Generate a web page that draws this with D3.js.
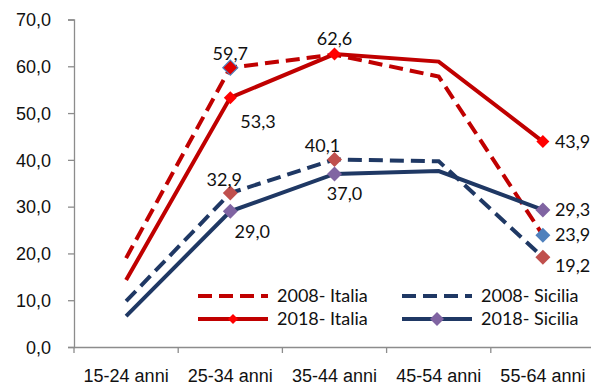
<!DOCTYPE html>
<html lang="en">
<head>
  <meta charset="utf-8">
  <title>Tasso di occupazione per età</title>
  <style>
    body { margin: 0; background: #fff; }
    svg { display: block; font-family: Lato, "Open Sans", sans-serif; }
    .axis path, .axis line { stroke: #8c8c8c; stroke-width: 1.3; }
    .axis text { fill: #111; font-size: 18px; }
  </style>
</head>
<body>
<div id="chart"></div>
<script src="https://cdn.jsdelivr.net/npm/d3@7"></script>
<script>

  ////////////////////////////////////////////////// DATA

  var categories = ["15-24 anni", "25-34 anni", "35-44 anni", "45-54 anni", "55-64 anni"];

  var italia2008  = [19.0, 59.7, 62.5, 57.8, 23.9];
  var italia2018  = [14.3, 53.3, 62.6, 61.0, 43.9];
  var sicilia2008 = [9.8, 32.9, 40.1, 39.7, 19.2];
  var sicilia2018 = [6.6, 29.0, 37.0, 37.6, 29.3];

  var seriesNames = ["2008- Italia", "2008- Sicilia", "2018- Italia", "2018- Sicilia"];

  var yTicks = [0, 10, 20, 30, 40, 50, 60, 70];

  // which points carry a marker + value label
  var labelled = [1, 2, 4];

  ////////////////////////////////////////////////// SETUP

  var width = 591, height = 387;

  var svg = d3.select("#chart").append("svg")
    .attr("width", width)
    .attr("height", height);

  var x = d3.scaleBand().domain(categories).range([74, 595]);
  var y = d3.scaleLinear().domain([0, 70]).range([347, 19.5]);

  var fmt = function(v) { return d3.format(".1f")(v).replace(".", ","); };

  // axes
  svg.append("g")
    .attr("class", "axis")
    .attr("transform", "translate(74,0)")
    .call(d3.axisLeft(y).tickValues(yTicks).tickFormat(fmt).tickSizeInner(6).tickSizeOuter(6).tickPadding(17))
    .call(function(g) { g.selectAll("text").attr("dy", "0.35em"); });

  svg.append("g")
    .attr("class", "axis")
    .attr("transform", "translate(0,347)")
    .call(d3.axisBottom(x).tickSizeInner(0).tickSizeOuter(0).tickPadding(22))
    .call(function(g) {
      // category boundary ticks
      var bounds = categories.map(function(c) { return x(c); });
      g.selectAll(".bound").data(bounds).enter().append("line")
        .attr("class", "bound")
        .attr("x1", function(d) { return d; }).attr("x2", function(d) { return d; })
        .attr("y1", 0).attr("y2", 6);
    });

  var cx = function(i) { return x(categories[i]) + x.bandwidth() / 2; };

  var line = d3.line()
    .x(function(d, i) { return cx(i); })
    .y(function(d) { return y(d); });

  var red = "#c00000", navy = "#1f3864";

  var series = [
    { name: seriesNames[0], values: italia2008,  color: red,  dash: "14,7", marker: "#4f81bd" },
    { name: seriesNames[1], values: sicilia2008, color: navy, dash: "14,7", marker: "#c0504d" },
    { name: seriesNames[2], values: italia2018,  color: red,  dash: null,   marker: "#ff0000" },
    { name: seriesNames[3], values: sicilia2018, color: navy, dash: null,   marker: "#8064a2" }
  ];

  var drawOrder = [0, 2, 1, 3];

  drawOrder.forEach(function(k) {
    var s = series[k];
    svg.append("path")
      .attr("d", line(s.values))
      .attr("fill", "none")
      .attr("stroke", s.color)
      .attr("stroke-width", 4)
      .attr("stroke-dasharray", s.dash);
  });

  function diamond(g, px, py, r, fill, stroke) {
    g.append("path")
      .attr("d", "M" + px + "," + (py - r) + "L" + (px + r) + "," + py + "L" + px + "," + (py + r) + "L" + (px - r) + "," + py + "Z")
      .attr("fill", fill)
      .attr("stroke", stroke || "none")
      .attr("stroke-width", 1.2);
  }

  // label placement per series / point index: [dx, dy, anchor]
  var placement = {
    0: { 1: [0, -14, "middle"], 4: [12, 0, "start"] },
    1: { 1: [-6, -13, "middle"], 2: [-12, -14, "middle"], 4: [12, 9, "start"] },
    2: { 1: [10, 24, "start"], 2: [0, -15, "middle"], 4: [12, 0, "start"] },
    3: { 1: [22, 20, "middle"], 2: [10, 20, "middle"], 4: [12, 0, "start"] }
  };

  var markers = svg.append("g");
  var labels = svg.append("g").attr("font-size", 18).attr("fill", "#111");

  drawOrder.forEach(function(k) {
    var s = series[k];
    labelled.forEach(function(i) {
      if (k === 0 && i === 2) return;
      var px = cx(i), py = y(s.values[i]);
      var r = k === 2 ? 6.5 : 7.5;
      if (k === 0 && i === 1) diamond(markers, px, py, r, "#e00000", "#4f81bd");
      else diamond(markers, px, py, r, s.marker);
      var p = placement[k][i];
      labels.append("text")
        .attr("x", px + p[0])
        .attr("y", py + p[1])
        .attr("dy", "0.35em")
        .attr("text-anchor", p[2])
        .text(fmt(s.values[i]));
    });
  });

  // legend
  var legend = svg.append("g").attr("font-size", 18).attr("fill", "#111");
  var legendPos = [[198, 296], [402, 296], [198, 319], [402, 319]];

  series.forEach(function(s, k) {
    var lx = legendPos[k][0], ly = legendPos[k][1];
    legend.append("line")
      .attr("x1", lx).attr("x2", lx + 70)
      .attr("y1", ly).attr("y2", ly)
      .attr("stroke", s.color)
      .attr("stroke-width", 4)
      .attr("stroke-dasharray", s.dash);
    if (!s.dash) diamond(legend, lx + 35, ly, k === 2 ? 5 : 7, s.marker);
    legend.append("text")
      .attr("x", lx + 79)
      .attr("y", ly)
      .attr("dy", "0.35em")
      .text(s.name);
  });

</script>
</body>
</html>
